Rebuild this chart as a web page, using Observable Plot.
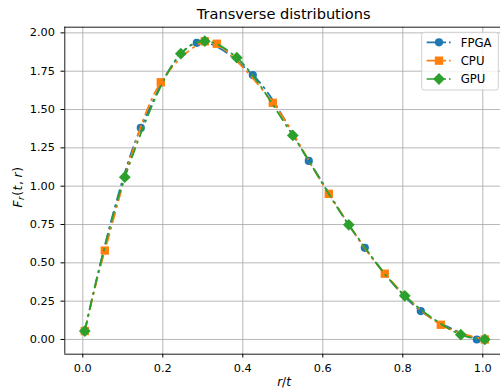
<!DOCTYPE html>
<html><head><meta charset="utf-8">
<script src="https://cdn.jsdelivr.net/npm/d3@7"></script>
<script src="https://cdn.jsdelivr.net/npm/@observablehq/plot@0.6"></script>
<style>
html,body{margin:0;padding:0;background:#fff;}
#chart{position:relative;width:500px;height:390px;}
</style></head><body><div id="chart"></div>
<script>
const title = "Transverse distributions";
const seriesNames = ["FPGA", "CPU", "GPU"];
const seriesColors = ["#1f77b4", "#ff7f0e", "#2ca02c"];
const seriesSymbols = ["circle", "square", "diamond2"];
const seriesR = [4.1, 4.7, 5.3];

const fpgaX = [0.005, 0.145, 0.285, 0.425, 0.565, 0.705, 0.845, 0.985];
const fpgaY = [0.055, 1.38, 1.935, 1.725, 1.165, 0.598, 0.185, 0.0];
const cpuX = [0.005, 0.055, 0.195, 0.305, 0.335, 0.475, 0.615, 0.755, 0.895, 1.005];
const cpuY = [0.055, 0.58, 1.678, 1.945, 1.929, 1.544, 0.950, 0.429, 0.096, 0.0];
const gpuX = [0.005, 0.105, 0.245, 0.305, 0.385, 0.525, 0.665, 0.805, 0.945, 1.005];
const gpuY = [0.055, 1.059, 1.864, 1.946, 1.838, 1.331, 0.748, 0.285, 0.031, 0.0];

const xTicks = [0, 0.2, 0.4, 0.6, 0.8, 1.0];
const yTicks = [0, 0.25, 0.5, 0.75, 1.0, 1.25, 1.5, 1.75, 2.0];

const seriesX = [fpgaX, cpuX, gpuX];
const seriesY = [fpgaY, cpuY, gpuY];
const rows = seriesNames.map((name, i) => seriesX[i].map((x, j) => ({series: name, x, y: seriesY[i][j]})));

const xDomain = [-0.045, 1.04425];
const yDomain = [-0.096, 2.037];
const dash = "10,5.5,1.5,5.5";
const font = "'DejaVu Sans', sans-serif";

const marks = [
  Plot.gridX(xTicks, {stroke: "#b0b0b0", strokeOpacity: 1, strokeWidth: 0.9}),
  Plot.gridY(yTicks, {stroke: "#b0b0b0", strokeOpacity: 1, strokeWidth: 0.9})
];
rows.forEach((data, i) => {
  marks.push(Plot.line(data, {x: "x", y: "y", stroke: seriesColors[i], strokeWidth: 1.8, strokeDasharray: dash, curve: "catmull-rom"}));
  marks.push(Plot.dot(data, {x: "x", y: "y", symbol: seriesSymbols[i], fill: seriesColors[i], r: seriesR[i], stroke: "none"}));
});
marks.push(
  Plot.axisX(xTicks, {tickFormat: d3.format(".1f"), tickSize: 3.8, tickPadding: 5.6, fontSize: 11.3, label: null}),
  Plot.axisY(yTicks, {tickFormat: d3.format(".2f"), tickSize: 3.8, tickPadding: 6.0, fontSize: 11.3, label: null}),
  Plot.ruleX([xDomain[0]], {stroke: "black", strokeWidth: 0.9}),
  Plot.ruleY([yDomain[0]], {stroke: "black", strokeWidth: 0.9}),
  Plot.ruleY([yDomain[1]], {stroke: "black", strokeWidth: 0.9})
);

const chart = Plot.plot({
  width: 500, height: 390,
  marginLeft: 64.3, marginRight: 0, marginTop: 26.7, marginBottom: 36.3,
  x: {domain: xDomain},
  y: {domain: yDomain},
  style: {fontFamily: font, fontSize: "11.3px", color: "black", background: "white", overflow: "visible"},
  marks
});
document.getElementById("chart").appendChild(chart);

const svg = d3.select(chart);
svg.append("text").attr("x", 283.7).attr("y", 18.8).attr("text-anchor", "middle")
  .attr("font-family", font).attr("font-size", 14.57).attr("fill", "black").text(title);

const xl = svg.append("text").attr("x", 284).attr("y", 386).attr("text-anchor", "middle")
  .attr("font-family", font).attr("font-size", 12).attr("fill", "black");
xl.append("tspan").attr("font-style", "italic").text("r");
xl.append("tspan").text("/");
xl.append("tspan").attr("font-style", "italic").text("t");

const yl = svg.append("text").attr("transform", "translate(21.7,187) rotate(-90)")
  .attr("text-anchor", "middle").attr("font-family", font).attr("font-size", 12.2).attr("fill", "black")
  .attr("letter-spacing", 0.6);
yl.append("tspan").attr("font-style", "italic").text("F");
yl.append("tspan").attr("font-style", "italic").attr("font-size", 8.6).attr("dy", 2.4).text("r");
yl.append("tspan").attr("dy", -2.4).text("(");
yl.append("tspan").attr("font-style", "italic").text("t");
yl.append("tspan").text(",\u2009");
yl.append("tspan").attr("font-style", "italic").text("r");
yl.append("tspan").text(")");

const lg = svg.append("g").attr("text-anchor", "start");
lg.append("rect").attr("x", 421.7).attr("y", 32.3).attr("width", 76.6).attr("height", 57.7).attr("rx", 2.5)
  .attr("fill", "white").attr("fill-opacity", 0.8).attr("stroke", "#cccccc").attr("stroke-width", 0.9);
const d3Sym = {circle: d3.symbolCircle, square: d3.symbolSquare, diamond2: d3.symbolDiamond2};
seriesNames.forEach((name, i) => {
  const y = 42.3 + i * 18.35;
  lg.append("line").attr("x1", 426.7).attr("x2", 450.6).attr("y1", y).attr("y2", y)
    .attr("stroke", seriesColors[i]).attr("stroke-width", 1.7).attr("stroke-dasharray", "19.3,3,1.6,10");
  lg.append("path").attr("transform", `translate(439,${y})`)
    .attr("d", d3.symbol(d3Sym[seriesSymbols[i]], Math.PI * seriesR[i] * seriesR[i])())
    .attr("fill", seriesColors[i]);
  lg.append("text").attr("x", 460.7).attr("y", y + 4.2).attr("text-anchor", "start")
    .attr("font-family", font).attr("font-size", 11.7).attr("fill", "black").text(name);
});
</script></body></html>
